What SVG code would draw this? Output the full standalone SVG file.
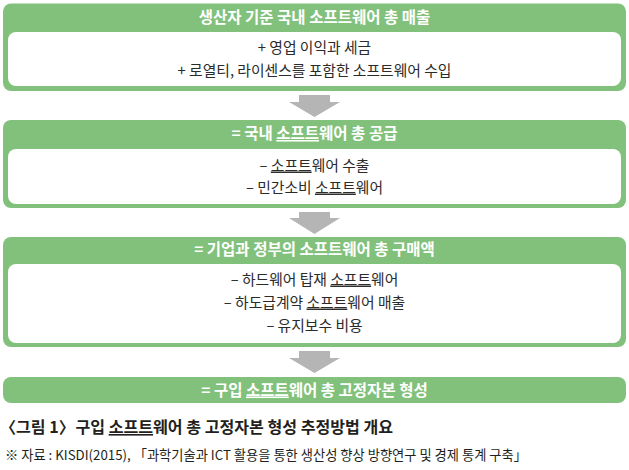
<svg xmlns="http://www.w3.org/2000/svg" width="629" height="470" viewBox="0 0 629 470">
<style>
.outer{fill:#82c17c}
.inner{fill:#ffffff}
.arrow{fill:#b5b5b5}
.title{font-family:"Noto Sans CJK KR","Noto Sans",sans-serif;font-size:15.5px;font-weight:bold;fill:#ffffff;text-anchor:middle}
.body{font-family:"Noto Sans CJK KR","Noto Sans",sans-serif;font-size:14.8px;fill:#2b2b2b;text-anchor:middle}
.cap{font-family:"Noto Sans CJK KR","Noto Sans",sans-serif;font-size:16px;font-weight:bold;fill:#231f20}
.src{font-family:"Noto Sans CJK KR","Noto Sans",sans-serif;font-size:13.3px;fill:#231f20}
.u{text-decoration:underline}
</style>
<rect width="629" height="470" fill="#ffffff"/>
<g id="node1">
<rect class="outer" x="3" y="3.5" width="623" height="87.5" rx="8"/>
<rect class="inner" x="8" y="32" width="613" height="54" rx="8"/>
<text class="title" x="314.5" y="23">생산자 기준 국내 소프트웨어 총 매출</text>
<text class="body" x="314.5" y="52.5">+ 영업 이익과 세금</text>
<text class="body" x="314.5" y="75.5">+ 로열티, 라이센스를 포함한 소프트웨어 수입</text>
</g>
<g id="node2">
<rect class="outer" x="3" y="120" width="623" height="88" rx="8"/>
<rect class="inner" x="8" y="149" width="613" height="55" rx="8"/>
<text class="title" x="314.5" y="139">= 국내 <tspan class="u">소프트</tspan>웨어 총 공급</text>
<text class="body" x="314.5" y="170.5">– <tspan class="u">소프트</tspan>웨어 수출</text>
<text class="body" x="314.5" y="192.5">– 민간소비 <tspan class="u">소프트</tspan>웨어</text>
</g>
<g id="node3">
<rect class="outer" x="3" y="237" width="623" height="110" rx="8"/>
<rect class="inner" x="8" y="264" width="613" height="79" rx="8"/>
<text class="title" x="314.5" y="255">= 기업과 정부의 소프트웨어 총 구매액</text>
<text class="body" x="314.5" y="284.5">– 하드웨어 탑재 <tspan class="u">소프트</tspan>웨어</text>
<text class="body" x="314.5" y="307.5">– 하도급계약 <tspan class="u">소프트</tspan>웨어 매출</text>
<text class="body" x="314.5" y="330.5">– 유지보수 비용</text>
</g>
<g id="node4">
<rect class="outer" x="3" y="377" width="623" height="26" rx="8"/>
<text class="title" x="314.5" y="395.5">= 구입 <tspan class="u">소프트</tspan>웨어 총 고정자본 형성</text>
</g>
<g id="connectors">
<path class="arrow" d="M299 95H330V102H340L314.5 117L289 102H299Z"/>
<path class="arrow" d="M299 212H330V218H340L314.5 234L289 218H299Z"/>
<path class="arrow" d="M299 351H330V358H340L314.5 373L289 358H299Z"/>
</g>
<g id="caption">
<text class="cap" x="0" y="433" textLength="393" lengthAdjust="spacingAndGlyphs">〈그림 1〉<tspan dx="-3"> 구입 </tspan><tspan class="u">소프트</tspan>웨어 총 고정자본 형성 추정방법 개요</text>
<text class="src" x="5" y="460" textLength="522" lengthAdjust="spacingAndGlyphs">※ 자료 : KISDI(2015), 「과학기술과 ICT 활용을 통한 생산성 향상 방향연구 및 경제 통계 구축」</text>
</g>
</svg>
